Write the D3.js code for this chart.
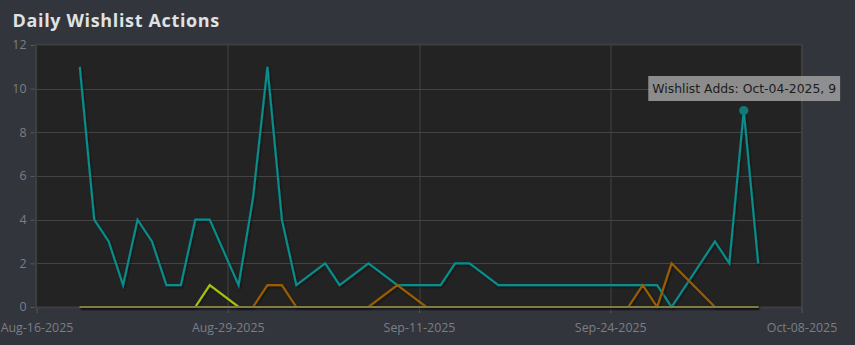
<!DOCTYPE html>
<html>
<head>
<meta charset="utf-8">
<script src="https://cdn.jsdelivr.net/npm/d3@7"></script>
<style>
  body { margin: 0; background: #32353c; }
  svg { display: block; }
</style>
</head>
<body>
<div id="chart"></div>
<script>
// days that have at least one action (missing days are simply not in the export)
var dates = ['Aug-19-2025', 'Aug-20-2025', 'Aug-21-2025', 'Aug-22-2025', 'Aug-23-2025',
  'Aug-24-2025', 'Aug-25-2025', 'Aug-26-2025', 'Aug-27-2025', 'Aug-28-2025',
  'Aug-30-2025', 'Aug-31-2025', 'Sep-01-2025', 'Sep-02-2025', 'Sep-03-2025',
  'Sep-05-2025', 'Sep-06-2025', 'Sep-08-2025', 'Sep-10-2025', 'Sep-12-2025',
  'Sep-13-2025', 'Sep-14-2025', 'Sep-15-2025', 'Sep-17-2025', 'Sep-18-2025',
  'Sep-19-2025', 'Sep-20-2025', 'Sep-21-2025', 'Sep-22-2025', 'Sep-23-2025',
  'Sep-24-2025', 'Sep-25-2025', 'Sep-26-2025', 'Sep-27-2025', 'Sep-28-2025',
  'Sep-29-2025', 'Oct-02-2025', 'Oct-03-2025', 'Oct-04-2025', 'Oct-05-2025']

var adds      = [11, 4, 3, 1, 4, 3, 1, 1, 4, 4, 1, 5, 11, 4, 1, 2, 1, 2, 1, 1,
                 1, 2, 2, 1, 1, 1, 1, 1, 1, 1, 1, 1, 1, 1, 1, 0, 3, 2, 9, 2]
var deletes   = [0, 0, 0, 0, 0, 0, 0, 0, 0, 0, 0, 0, 1, 1, 0, 0, 0, 0, 1, 0,
                 0, 0, 0, 0, 0, 0, 0, 0, 0, 0, 0, 0, 0, 1, 0, 2, 0, 0, 0, 0]
var purchases = [0, 0, 0, 0, 0, 0, 0, 0, 0, 1, 0, 0, 0, 0, 0, 0, 0, 0, 0, 0,
                 0, 0, 0, 0, 0, 0, 0, 0, 0, 0, 0, 0, 0, 0, 0, 0, 0, 0, 0, 0]
var gifts     = [0, 0, 0, 0, 0, 0, 0, 0, 0, 0, 0, 0, 0, 0, 0, 0, 0, 0, 0, 0,
                 0, 0, 0, 0, 0, 0, 0, 0, 0, 0, 0, 0, 0, 0, 0, 0, 0, 0, 0, 0]

var seriesNames = ['Wishlist Adds', 'Wishlist Deletes', 'Wishlist Purchases', 'Wishlist Gifts']
var seriesColors = ['#078c8a', '#9a5d03', '#a3c210', '#7f7b45']

var domainStart = 'Aug-16-2025'
var domainEnd = 'Oct-08-2025'
var yTicks = [0, 2, 4, 6, 8, 10, 12]
var hoverIndex = 38   // the point the tooltip sits on

const W = 855
const H = 345
const margin = { top: 45, left: 36.5, right: 53.5, bottom: 38 }
const width = W - margin.left - margin.right
const height = H - margin.top - margin.bottom

var parseDate = d3.utcParse('%b-%d-%Y')
var formatDate = d3.utcFormat('%b-%d-%Y')

var svg = d3
    .select('#chart')
    .append('svg')
    .attr('width', W)
    .attr('height', H)

// user space units so the flat zero line doesn't get an empty filter box
var defs = svg.append('defs')
defs.append('filter')
    .attr('id', 'shadow')
    .attr('filterUnits', 'userSpaceOnUse')
    .attr('x', -10).attr('y', -10)
    .attr('width', W).attr('height', H)
    .append('feDropShadow')
    .attr('dx', 1)
    .attr('dy', 1.2)
    .attr('stdDeviation', 0.8)
    .attr('flood-color', '#000')
    .attr('flood-opacity', 0.55)

svg.append('rect')
    .attr('width', W)
    .attr('height', H)
    .attr('fill', '#32353c')

svg.append('text')
    .attr('x', 12.5)
    .attr('y', 26.5)
    .attr('fill', '#dfe1e3')
    .attr('font-family', '"Open Sans", sans-serif')
    .attr('font-weight', 700)
    .attr('font-size', 18)
    .attr('letter-spacing', 0.65)
    .text('Daily Wishlist Actions')

var g = svg.append('g')
    .attr('transform', 'translate(' + margin.left + ',' + margin.top + ')')

var x = d3.scaleUtc()
    .domain([parseDate(domainStart), parseDate(domainEnd)])
    .range([0, width])

var y = d3.scaleLinear()
    .domain([0, 12])
    .range([height, 0])

// x ticks split the domain into four equal parts
var t0 = x.domain()[0].getTime()
var t1 = x.domain()[1].getTime()
var xTicks = d3.range(5).map(function(i) { return new Date(t0 + i * (t1 - t0) / 4) })

g.append('rect')
    .attr('width', width)
    .attr('height', height)
    .attr('fill', '#232323')

// grid
g.selectAll('.hgrid')
    .data(yTicks.filter(function(d) { return d > 0 && d < 12 }))
    .enter().append('line')
    .attr('class', 'hgrid')
    .attr('x1', 0).attr('x2', width)
    .attr('y1', function(d) { return Math.round(y(d)) + 0.5 })
    .attr('y2', function(d) { return Math.round(y(d)) + 0.5 })
    .attr('stroke', '#444444')
    .attr('stroke-width', 1)

g.selectAll('.vgrid')
    .data(xTicks.slice(1, 4))
    .enter().append('line')
    .attr('class', 'vgrid')
    .attr('y1', 0).attr('y2', height)
    .attr('x1', function(d) { return Math.round(x(d)) + 0.5 })
    .attr('x2', function(d) { return Math.round(x(d)) + 0.5 })
    .attr('stroke', '#444444')
    .attr('stroke-width', 1)

// frame
g.append('rect')
    .attr('x', -0.5)
    .attr('y', -0.5)
    .attr('width', width + 1)
    .attr('height', height + 1)
    .attr('fill', 'none')
    .attr('stroke', '#3f3f3f')
    .attr('stroke-width', 2)

// axes
var yAxis = g.append('g')
    .attr('transform', 'translate(-2,0)')
    .call(d3.axisLeft(y).tickValues(yTicks).tickSize(4).tickPadding(4))
var xAxis = g.append('g')
    .attr('transform', 'translate(0,' + (height + 1) + ')')
    .call(d3.axisBottom(x).tickValues(xTicks).tickFormat(formatDate).tickSize(5).tickPadding(10))

yAxis.select('.domain').remove()
xAxis.select('.domain').remove()
svg.selectAll('.tick line').attr('stroke', '#55585e')
svg.selectAll('.tick text')
    .attr('fill', '#7b7f85')
    .attr('font-family', '"Open Sans", sans-serif')
    .attr('font-size', 12.4)

// lines
var rows = dates.map(function(d, i) {
  return { date: parseDate(d), values: [adds[i], deletes[i], purchases[i], gifts[i]] }
})

var line = function(k) {
  return d3.line()
      .x(function(d) { return x(d.date) })
      .y(function(d) { return y(d.values[k]) })
}

g.selectAll('.series')
    .data(seriesNames)
    .enter().append('path')
    .attr('class', 'series')
    .attr('d', function(name, k) { return line(k)(rows) })
    .attr('fill', 'none')
    .attr('stroke', function(name, k) { return seriesColors[k] })
    .attr('stroke-width', 2.2)
    .attr('filter', 'url(#shadow)')

// hover marker + tooltip
var hp = rows[hoverIndex]
var hx = x(hp.date)
var hy = y(hp.values[0])

g.append('circle')
    .attr('cx', hx)
    .attr('cy', hy)
    .attr('r', 4.6)
    .attr('fill', '#107a78')

var tip = svg.append('g')
var tipText = tip.append('text')
    .attr('font-family', '"DejaVu Sans", sans-serif')
    .attr('font-size', 12.4)
    .attr('fill', '#1c1c1c')
    .text(seriesNames[0] + ': ' + formatDate(hp.date) + ', ' + hp.values[0])

var tw = tipText.node().getComputedTextLength()
var tipX = margin.left + hx - 95.5
var tipY = margin.top + hy - 34.5

tip.insert('rect', 'text')
    .attr('x', tipX)
    .attr('y', tipY)
    .attr('width', tw + 8)
    .attr('height', 25)
    .attr('fill', '#a3a3a3')
    .attr('opacity', 0.82)

tipText
    .attr('x', tipX + 4)
    .attr('y', tipY + 17)
</script>
</body>
</html>
